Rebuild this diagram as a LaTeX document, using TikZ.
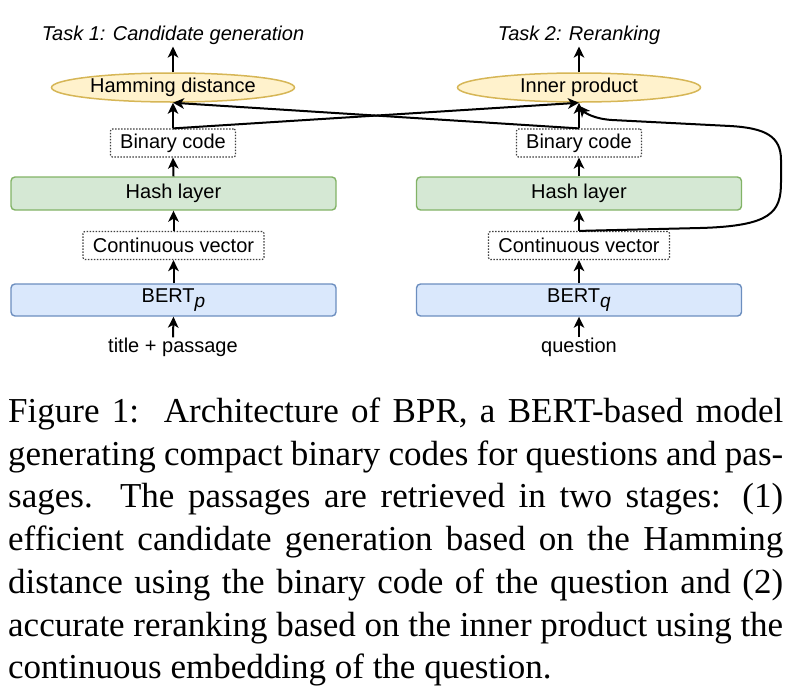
\documentclass[tikz,border=0pt]{standalone}
\usepackage{fontspec}
\setmainfont{Liberation Serif}
\newfontfamily\diagfont{Liberation Sans}
\usetikzlibrary{shapes.geometric,arrows.meta}
\definecolor{yfill}{HTML}{FFF2CC}
\definecolor{ystroke}{HTML}{D6B656}
\definecolor{gfill}{HTML}{D5E8D4}
\definecolor{gstroke}{HTML}{82B366}
\definecolor{bfill}{HTML}{DAE8FC}
\definecolor{bstroke}{HTML}{6C8EBF}
\tikzset{
  dfont/.style={font=\diagfont\fontsize{20}{24}\selectfont},
  oval/.style={ellipse, draw=ystroke, fill=yfill, line width=1.5pt, minimum width=243pt, minimum height=29pt, inner sep=0pt, dfont},
  layer/.style={rectangle, rounded corners=4pt, line width=1.4pt, minimum width=325pt, inner sep=0pt, dfont},
  hashbox/.style={layer, draw=gstroke, fill=gfill, minimum height=33pt},
  bertbox/.style={layer, draw=bstroke, fill=bfill, minimum height=32pt},
  vecbox/.style={rectangle, rounded corners=2pt, draw=black!75, dash pattern=on 1.5pt off 1.5pt, line width=1.2pt, inner sep=0pt, minimum height=28pt, dfont},
  flow/.style={line width=2pt, -{Stealth[length=11pt,width=10.5pt,inset=3pt]}},
  intext/.style={inner sep=0pt, dfont},
  tasktext/.style={inner sep=1.5pt, font=\diagfont\itshape\fontsize{20}{24}\selectfont},
  capline/.style={anchor=base west, inner sep=0pt, font=\fontsize{35}{42}\selectfont},
}
\begin{document}
\begin{tikzpicture}[x=1pt,y=-1pt]
\useasboundingbox (0,0) rectangle (792,694);
% left column
\node[tasktext, anchor=base] (t1) at (173,40.7) {Task 1: Candidate generation};
\node[oval] (hd) at (173,87.5) {Hamming distance};
\node[vecbox, minimum width=125pt] (binL) at (173,143) {Binary code};
\node[hashbox] (hashL) at (173.5,193.5) {Hash layer};
\node[vecbox, minimum width=181pt] (cvL) at (173.5,245.5) {Continuous vector};
\node[bertbox] (bertL) at (173.5,300) {BERT\raisebox{-5pt}{\fontsize{19}{22}\selectfont\itshape p}};
\node[intext, anchor=base] (inL) at (173,352) {title + passage};
% right column
\node[tasktext, anchor=base] (t2) at (579,40.7) {Task 2: Reranking};
\node[oval] (ip) at (579,87.5) {Inner product};
\node[vecbox, minimum width=125pt] (binR) at (579,143) {Binary code};
\node[hashbox] (hashR) at (579,193.5) {Hash layer};
\node[vecbox, minimum width=181pt] (cvR) at (579,245.5) {Continuous vector};
\node[bertbox] (bertR) at (579,300) {BERT\raisebox{-5pt}{\fontsize{19}{22}\selectfont\itshape q}};
\node[intext, anchor=base] (inR) at (579,352) {question};
% vertical flows
\foreach \a/\b in {inL/bertL, bertL/cvL, cvL/hashL, hashL/binL, binL/hd, hd/t1,
                   inR/bertR, bertR/cvR, cvR/hashR, hashR/binR, binR/ip, ip/t2}
  \draw[flow] (\a.north) -- (\b.south);
% crossing flows
\draw[flow] (binL.north) -- (ip.south);
\draw[flow] (binR.north) -- (hd.south);
% skip connection
\draw[flow] (cvR.north) -- (700,228) .. controls (772,226) and (781,212) .. (781,182)
  -- (781,160) .. controls (781,136) and (765,128) .. (730,126) -- (612,120)
  .. controls (595,119) and (585,113) .. ([yshift=-3pt]ip.south);
% caption
\node[capline] (c1) at (8,422.5) {\makebox[775pt][s]{Figure 1:\ \ Architecture of BPR, a BERT-based model}};
\node[capline] (c2) at (8,465.2) {\makebox[775pt][s]{generating compact binary codes for questions and pas-}};
\node[capline] (c3) at (8,507.9) {\makebox[775pt][s]{sages.\ \ The passages are retrieved in two stages: (1)}};
\node[capline] (c4) at (8,550.6) {\makebox[775pt][s]{efficient candidate generation based on the Hamming}};
\node[capline] (c5) at (8,593.3) {\makebox[775pt][s]{distance using the binary code of the question and (2)}};
\node[capline] (c6) at (8,636) {\makebox[775pt][s]{accurate reranking based on the inner product using the}};
\node[capline] (c7) at (8,678.7) {continuous embedding of the question.};
\end{tikzpicture}
\end{document}
